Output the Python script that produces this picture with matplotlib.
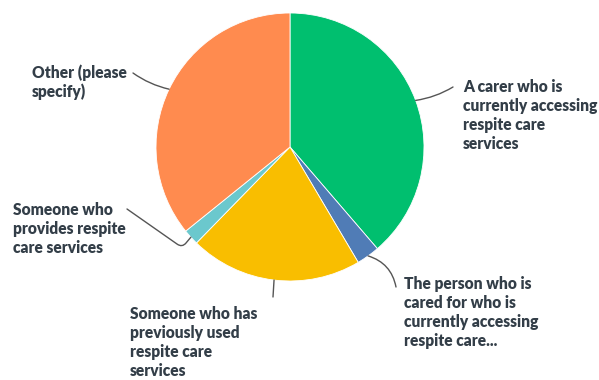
import numpy as np
import matplotlib.pyplot as plt

answers = [
    "A carer who is\ncurrently accessing\nrespite care\nservices",
    "The person who is\ncared for who is\ncurrently accessing\nrespite care...",
    "Someone who has\npreviously used\nrespite care\nservices",
    "Someone who\nprovides respite\ncare services",
    "Other (please\nspecify)",
]
shares = [38.7, 2.8, 20.8, 1.9, 35.8]
colors = ["#00BF6F", "#507CB6", "#F9BE00", "#6BC8CD", "#FF8B4F"]

# pixel-like coordinates, y grows downward
W, H = 599, 380
cx, cy, r = 290, 147, 134

fig = plt.figure(figsize=(W / 100, H / 100), dpi=100)
ax = fig.add_axes([0, 0, 1, 1])

ax.pie(shares, colors=colors, center=(cx, cy), radius=r,
       startangle=-90, counterclock=True, frame=True,
       wedgeprops=dict(linewidth=0.6, edgecolor="white"))
ax.set_xlim(0, W)
ax.set_ylim(H, 0)
ax.set_aspect("equal")
ax.axis("off")

# mid angle of each wedge, clockwise from 12 o'clock
edges = np.concatenate([[0], np.cumsum(shares)]) / sum(shares) * 360
mids = np.radians((edges[:-1] + edges[1:]) / 2)

# label text anchor, leader end, connection style
layout = [
    ((463, 79), (453, 87), "arc3,rad=-0.1"),
    ((404, 276), (396, 287), "arc3,rad=0.3"),
    ((130, 306), (273, 297), "arc3,rad=0"),
    ((13, 202), (127, 209), "angle,angleA=-35,angleB=50,rad=6"),
    ((32, 64), (133, 73), "arc3,rad=0.1"),
]

for text, ang, (tpos, lend, cstyle) in zip(answers, mids, layout):
    start = (cx + r * np.sin(ang), cy - r * np.cos(ang))
    ax.annotate("", xy=start, xytext=lend,
                arrowprops=dict(arrowstyle="-", color="#555555", lw=1,
                                connectionstyle=cstyle,
                                shrinkA=0, shrinkB=0))
    ax.text(tpos[0], tpos[1], text, ha="left", va="top",
            fontsize=11.2, fontweight="heavy", family="Lato",
            color="#333e48", linespacing=1.22)

fig.savefig("out.png", dpi=100)
